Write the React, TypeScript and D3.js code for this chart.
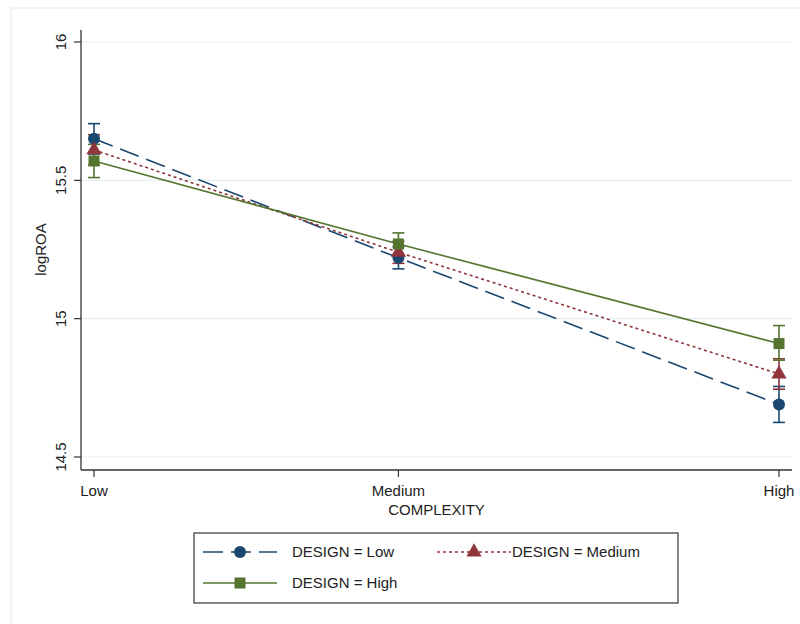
import * as d3 from 'd3';

// categories on the x axis (positions as plotted, Medium sits left of centre)
const complexityLabels = ['Low', 'Medium', 'High'];
const complexityPos = [1, 1.8, 2.8];

// DESIGN = Low
const lowMean = [15.65, 15.22, 14.69];
const lowLo = [15.595, 15.18, 14.625];
const lowHi = [15.705, 15.26, 14.755];

// DESIGN = Medium
const medMean = [15.61, 15.24, 14.8];
const medLo = [15.555, 15.2, 14.745];
const medHi = [15.665, 15.28, 14.855];

// DESIGN = High
const highMean = [15.57, 15.27, 14.91];
const highLo = [15.51, 15.23, 14.85];
const highHi = [15.63, 15.31, 14.975];

const yTicks = [14.5, 15, 15.5, 16];

const W = 800;
const H = 624;

const series = [
  { name: 'DESIGN = Low', mean: lowMean, lo: lowLo, hi: lowHi, color: '#1a476f', dash: '20,8', marker: 'circle' },
  { name: 'DESIGN = Medium', mean: medMean, lo: medLo, hi: medHi, color: '#90353b', dash: '3,3', marker: 'triangle' },
  { name: 'DESIGN = High', mean: highMean, lo: highLo, hi: highHi, color: '#55752f', dash: null, marker: 'square' },
];

const font = '"Liberation Sans", Arial, sans-serif';
const fs = 15;

function Marker({ type, x, y, color }: { type: string; x: number; y: number; color: string }) {
  if (type === 'circle') return <circle cx={x} cy={y} r={6} fill={color} />;
  if (type === 'triangle') {
    const p = d3.symbol(d3.symbolTriangle, 100)();
    return <path d={p || ''} transform={`translate(${x},${y})`} fill={color} />;
  }
  return <rect x={x - 5.5} y={y - 5.5} width={11} height={11} fill={color} />;
}

export default function App() {
  const x = d3.scaleLinear().domain([1, 2.8]).range([94, 779]);
  const y = d3.scaleLinear().domain([14.5, 16]).range([457, 42]);
  const axisLeft = 81;
  const axisRight = 792;
  const axisBottom = 470;
  const axisTop = 30;

  const line = d3
    .line<number>()
    .x((_, i) => x(complexityPos[i]))
    .y((d) => y(d));

  const legendRows = [
    { s: series[0], lx: 203, ly: 552 },
    { s: series[1], lx: 437, ly: 552 },
    { s: series[2], lx: 203, ly: 583 },
  ];

  return (
    <svg
      width={W}
      height={H}
      style={{ position: 'absolute', left: 0, top: 0, background: '#fff' }}
      fontFamily={font}
    >
      {/* faint outer graph region border */}
      <rect x={11} y={8} width={W} height={H} fill="#fff" stroke="#eaf0f0" strokeWidth={1.5} />

      {/* grid */}
      {yTicks.map((t) => (
        <line key={t} x1={axisLeft} x2={axisRight} y1={y(t)} y2={y(t)} stroke="#e4eeee" strokeWidth={1.2} />
      ))}

      {/* axes */}
      <line x1={axisLeft} x2={axisLeft} y1={axisTop} y2={axisBottom} stroke="#333" strokeWidth={1.3} />
      <line x1={axisLeft} x2={axisRight} y1={axisBottom} y2={axisBottom} stroke="#333" strokeWidth={1.3} />

      {yTicks.map((t) => (
        <g key={t}>
          <line x1={axisLeft - 7} x2={axisLeft} y1={y(t)} y2={y(t)} stroke="#333" strokeWidth={1.2} />
          <text
            transform={`translate(${66},${y(t)}) rotate(-90)`}
            textAnchor="middle"
            fontSize={fs}
            fill="#222"
          >
            {d3.format('~g')(t)}
          </text>
        </g>
      ))}
      <text transform={`translate(46,${y(15.25)}) rotate(-90)`} textAnchor="middle" fontSize={fs} fill="#222">
        logROA
      </text>

      {complexityPos.map((p, i) => (
        <g key={p}>
          <line x1={x(p)} x2={x(p)} y1={axisBottom} y2={axisBottom + 7} stroke="#333" strokeWidth={1.2} />
          <text x={x(p)} y={496} textAnchor="middle" fontSize={fs} fill="#222">
            {complexityLabels[i]}
          </text>
        </g>
      ))}
      <text x={(axisLeft + axisRight) / 2} y={515} textAnchor="middle" fontSize={fs} fill="#222">
        COMPLEXITY
      </text>

      {/* lines */}
      {series.map((s) => (
        <path
          key={s.name}
          d={line(s.mean) || ''}
          fill="none"
          stroke={s.color}
          strokeWidth={1.6}
          strokeDasharray={s.dash || undefined}
        />
      ))}

      {/* CI caps */}
      {series.map((s) =>
        complexityPos.map((p, i) => (
          <g key={s.name + p} stroke={s.color} strokeWidth={1.6}>
            <line x1={x(p)} x2={x(p)} y1={y(s.lo[i])} y2={y(s.hi[i])} />
            <line x1={x(p) - 6} x2={x(p) + 6} y1={y(s.lo[i])} y2={y(s.lo[i])} />
            <line x1={x(p) - 6} x2={x(p) + 6} y1={y(s.hi[i])} y2={y(s.hi[i])} />
          </g>
        ))
      )}

      {/* markers */}
      {series.map((s) =>
        complexityPos.map((p, i) => (
          <Marker key={s.name + p} type={s.marker} x={x(p)} y={y(s.mean[i])} color={s.color} />
        ))
      )}

      {/* legend */}
      <rect x={194} y={533} width={484} height={70} fill="#fff" stroke="#444" strokeWidth={1.3} />
      {legendRows.map(({ s, lx, ly }) => (
        <g key={s.name}>
          <line
            x1={lx}
            x2={lx + 74}
            y1={ly}
            y2={ly}
            stroke={s.color}
            strokeWidth={1.6}
            strokeDasharray={s.dash || undefined}
          />
          <Marker type={s.marker} x={lx + 37} y={ly} color={s.color} />
          <text x={lx + 75 + (s.marker === 'triangle' ? 0 : 14)} y={ly + 5} fontSize={fs} fill="#222">
            {s.name}
          </text>
        </g>
      ))}
    </svg>
  );
}
